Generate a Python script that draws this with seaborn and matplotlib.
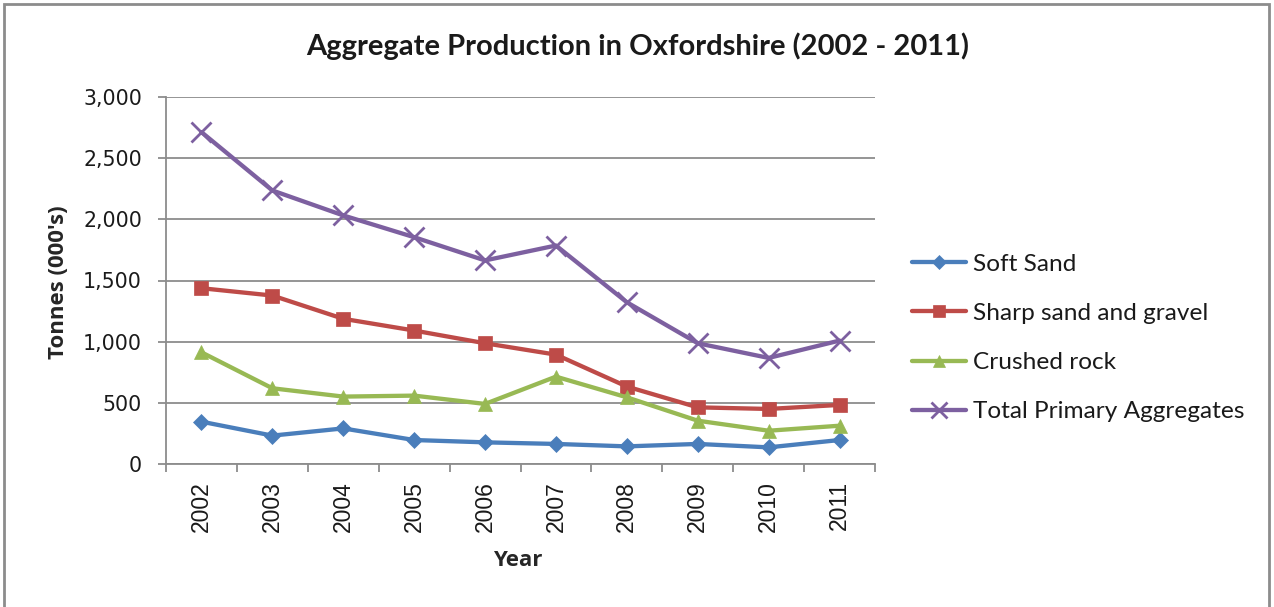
import matplotlib
matplotlib.use("Agg")
import matplotlib.pyplot as plt
import seaborn as sns
import pandas as pd
from matplotlib.patches import Rectangle
from matplotlib.ticker import FuncFormatter, FixedLocator

years = [2002, 2003, 2004, 2005, 2006, 2007, 2008, 2009, 2010, 2011]
soft_sand = [346, 232, 291, 196, 177, 164, 144, 164, 136, 196]
sharp_sand_gravel = [1437, 1377, 1187, 1091, 987, 894, 633, 463, 450, 483]
crushed_rock = [913, 619, 551, 559, 491, 714, 545, 354, 272, 313]
total_primary = [2713, 2236, 2032, 1854, 1664, 1786, 1322, 987, 867, 1009]

series_names = ["Soft Sand", "Sharp sand and gravel", "Crushed rock",
                "Total Primary Aggregates"]
series_values = [soft_sand, sharp_sand_gravel, crushed_rock, total_primary]
colors = ["#4A7EBB", "#BE4B48", "#98B954", "#7D60A0"]
markers = ["D", "s", "^", "x"]
marker_sizes = [8.5, 10, 10.5, 14]

df = pd.concat(
    [pd.DataFrame({"Year": [str(y) for y in years], "Tonnes": v, "Series": n})
     for n, v in zip(series_names, series_values)],
    ignore_index=True,
)

sns.set_theme(style="white")
plt.rcParams["font.family"] = ["Lato", "DejaVu Sans"]
plt.rcParams["text.color"] = "#1a1a1a"

W, H = 1274, 607
fig = plt.figure(figsize=(W / 100, H / 100), dpi=100)
ax = fig.add_axes([166 / W, 1 - 464 / H, (875 - 166) / W, (464 - 97) / H])

for name, col, mk, ms in zip(series_names, colors, markers, marker_sizes):
    sub = df[df["Series"] == name]
    sns.lineplot(data=sub, x="Year", y="Tonnes", ax=ax, color=col,
                 linewidth=3.1, marker=mk, markersize=ms,
                 markeredgewidth=2.0 if mk == "x" else 0.5,
                 markeredgecolor=col, markerfacecolor=col,
                 label=name, sort=False)

ax.set_xlim(-0.5, len(years) - 0.5)
ax.set_ylim(0, 3000)
ax.yaxis.set_major_locator(FixedLocator(range(0, 3001, 500)))
ax.yaxis.set_major_formatter(FuncFormatter(lambda v, p: f"{int(v):,}"))
ax.grid(axis="y", color="#8C8C8C", linewidth=1.3)
ax.set_axisbelow(True)

# category boundaries carry the tick marks; labels sit at the centres
ax.set_xticks(range(len(years)))
ax.set_xticklabels([str(y) for y in years], rotation=90, fontsize=16.5,
                   family=["Liberation Sans", "DejaVu Sans"])
ax.set_xticks([i - 0.5 for i in range(len(years) + 1)], minor=True)
ax.tick_params(axis="x", which="major", length=0, pad=12.5, labelcolor="#1a1a1a")
ax.tick_params(axis="x", which="minor", length=5.8, width=1.3, color="#8C8C8C",
               direction="out", bottom=True)
ax.tick_params(axis="y", which="major", length=5.8, width=1.3, color="#8C8C8C",
               direction="out", left=True, labelsize=14.8, pad=11.5,
               labelcolor="#1a1a1a")
for lab in ax.get_yticklabels():
    lab.set_family(["DejaVu Sans"])

for side in ["top", "right"]:
    ax.spines[side].set_visible(False)
for side in ["left", "bottom"]:
    ax.spines[side].set_color("#8C8C8C")
    ax.spines[side].set_linewidth(1.3)

ax.set_xlabel("Year", fontsize=16, fontweight="bold",
              family=["Open Sans", "DejaVu Sans"])
ax.set_ylabel("Tonnes (000's)", fontsize=16, fontweight="bold",
              family=["Open Sans", "DejaVu Sans"])
ax.xaxis.set_label_coords(518 / W, 1 - 560 / H, transform=fig.transFigure)
ax.yaxis.set_label_coords(59 / W, 1 - 282 / H, transform=fig.transFigure)
ax.xaxis.label.set_va("center")
ax.yaxis.label.set_va("center")

fig.text(638 / W, 1 - 46 / H, "Aggregate Production in Oxfordshire (2002 - 2011)",
         ha="center", va="center", fontsize=21, fontweight="bold")

handles, labels = ax.get_legend_handles_labels()
ax.legend(handles, labels, loc="center left", bbox_to_anchor=(912 / W, 1 - 338 / H),
          bbox_transform=fig.transFigure, frameon=False, fontsize=17.6,
          handlelength=2.2, handletextpad=0.28, labelspacing=1.15,
          borderaxespad=0, borderpad=0, markerscale=0.8)

fig.patches.append(Rectangle((4 / W, -0.05), 1265 / W, 1.05 - 4 / H,
                             transform=fig.transFigure, fill=False,
                             edgecolor="#8C8C8C", linewidth=2.0))

fig.savefig("out.png", dpi=100)
